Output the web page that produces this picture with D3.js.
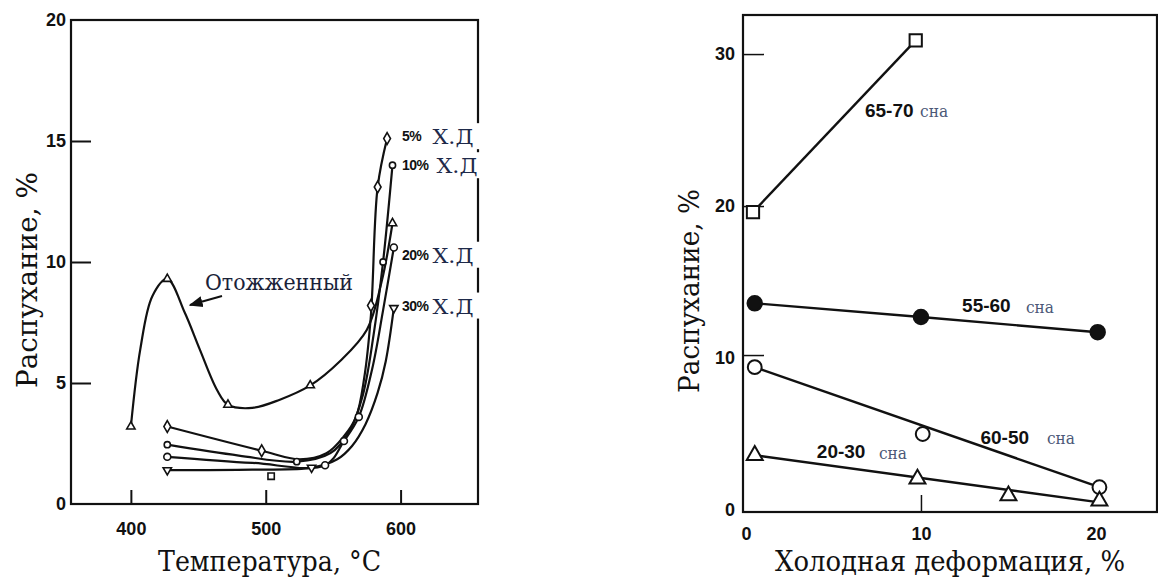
<!DOCTYPE html>
<html><head><meta charset="utf-8">
<script src="https://cdn.jsdelivr.net/npm/d3@7"></script>
<style>
html,body{margin:0;padding:0;background:#fff;}
svg{display:block;}
.serif{font-family:"DejaVu Serif","Liberation Serif",serif;}
.sans{font-family:"Liberation Sans",Arial,sans-serif;font-weight:bold;}
</style></head>
<body>
<svg id="c" width="1158" height="579"></svg>
<script>
// ---------- LEFT CHART DATA (temperature, swelling %) ----------
const leftXTicks = [400, 500, 600];
const leftYTicks = [0, 5, 10, 15, 20];
const leftXTitle = "Температура, °С";
const leftYTitle = "Распухание, %";

// curve readings
const annealCurve = [[400,3.2],[407,6.4],[416,8.6],[427,9.3],[440,7.9],[451,6.4],[464,4.7],[472,4.1],[490,3.97],[510,4.3],[533,4.9],[555,5.9],[575,7.2],[586,9.2],[594,11.6]];
const annealMarks = [[400,3.2],[427,9.3],[472,4.1],[533,4.9],[594,11.6]];

const cw5Curve  = [[427,3.2],[497,2.2],[525,1.85],[545,2.1],[558,2.8],[567,3.6],[573,5.2],[578,7.8],[583,13.1],[590,15.1]];
const cw5Marks  = [[427,3.2],[497,2.2],[578,8.2],[583,13.1],[590,15.1]];

const cw10Curve = [[427,2.45],[480,2.0],[523,1.75],[548,2.1],[562,3.0],[572,4.5],[580,7.0],[587,10.0],[594,14.0]];
const cw10Marks = [[427,2.45],[523,1.75],[587,10.0],[594,14.0]];

const cw20Curve = [[427,1.95],[490,1.7],[544,1.6],[558,2.6],[569,3.6],[579,5.6],[587,8.0],[595,10.6]];
const cw20Marks = [[427,1.95],[544,1.6],[558,2.6],[569,3.6],[595,10.6]];

const cw30Curve = [[427,1.4],[490,1.42],[534,1.5],[553,1.85],[564,2.4],[574,3.3],[583,4.6],[589,5.9],[595,8.1]];
const cw30Marks = [[427,1.4],[534,1.5],[595,8.1]];

const strayMarks = [[504,1.15]];

const cwLabelsPct = ["5%", "10%", "20%", "30%"];
const cwLabelsVal = [15.2, 14.0, 10.3, 8.2];
const cwLabelSuffix = "Х.Д";
const annealLabel = "Отожженный";

// ---------- RIGHT CHART DATA (cold work %, swelling %) ----------
const rightXTicks = [0, 10, 20];
const rightYTicks = [0, 10, 20, 30];
const rightXTitle = "Холодная деформация, %";
const rightYTitle = "Распухание, %";

const dpa6570 = [[0.4,19.6],[9.7,30.9]];
const dpa5560 = [[0.5,13.6],[10.0,12.7],[20.1,11.7]];
const dpa6050 = [[0.5,9.4],[10.1,5.0],[20.2,1.5]];
const dpa6050Fit = [[0.5,9.4],[20.2,1.5]];
const dpa2030 = [[0.5,3.6],[9.8,2.05],[15.0,0.95],[20.2,0.6]];
const dpa2030Fit = [[0.5,3.6],[20.2,0.5]];

const rightSeriesLabels = ["65-70", "55-60", "60-50", "20-30"];
const rightLabelUnit = "сна";

// ---------- DRAW ----------
const svg = d3.select("#c");
const INK = "#111";

function serifText(g, x, y, txt, size, len, color, rotate) {
  const t = g.append("text").attr("class","serif").attr("text-anchor","middle")
    .style("font-size", size+"px").attr("fill", color || INK)
    .attr("textLength", len).attr("lengthAdjust","spacingAndGlyphs").text(txt);
  if (rotate) t.attr("transform",`translate(${x},${y}) rotate(-90)`).attr("dominant-baseline","central");
  else t.attr("x",x).attr("y",y);
  return t;
}

// Left scales
const xL = d3.scaleLinear().domain([355.6, 657.4]).range([71, 478]);
const yL = d3.scaleLinear().domain([0, 20]).range([504, 20]);

const gL = svg.append("g");

gL.append("rect").attr("x", xL.range()[0]).attr("y", yL.range()[1])
  .attr("width", xL.range()[1]-xL.range()[0]).attr("height", yL.range()[0]-yL.range()[1])
  .attr("fill","none").attr("stroke",INK).attr("stroke-width",2.2);

const axL = gL.append("g").attr("transform",`translate(${xL.range()[0]},0)`)
  .call(d3.axisLeft(yL).tickValues(leftYTicks).tickSizeInner(-20).tickSizeOuter(0).tickPadding(5));
const axB = gL.append("g").attr("transform",`translate(0,${yL.range()[0]})`)
  .call(d3.axisBottom(xL).tickValues(leftXTicks).tickSizeInner(-14).tickSizeOuter(0).tickPadding(18));
[axL, axB].forEach(a => {
  a.attr("font-family",null).attr("font-size",null);
  a.select(".domain").remove();
  a.selectAll(".tick line").attr("stroke",INK).attr("stroke-width",2);
  a.selectAll(".tick text").attr("class","sans").attr("fill",INK).style("font-size","18px");
});
axL.selectAll(".tick").filter(d => d===0 || d===20).select("line").remove();

serifText(gL, 269.5, 571, leftXTitle, 27, 223);
serifText(gL, 27, 280, leftYTitle, 27, 216, INK, true);

const lineL = d3.line().x(d=>xL(d[0])).y(d=>yL(d[1])).curve(d3.curveCatmullRom.alpha(0.5));
[annealCurve, cw5Curve, cw10Curve, cw20Curve, cw30Curve].forEach(c => {
  gL.append("path").attr("d", lineL(c)).attr("fill","none").attr("stroke",INK).attr("stroke-width",2.2);
});

function drawMarks(g, data, sx, sy, type, size, fill, sw) {
  g.selectAll(null).data(data).enter().append("path")
    .attr("d", d3.symbol().type(type).size(size))
    .attr("transform", d => `translate(${sx(d[0])},${sy(d[1])})`)
    .attr("fill", fill).attr("stroke",INK).attr("stroke-width",sw);
}
const invTri = { draw(ctx, size){ const h=Math.sqrt(size*4/Math.sqrt(3)); const r=h/Math.sqrt(3);
  ctx.moveTo(-h/2,-r/2); ctx.lineTo(h/2,-r/2); ctx.lineTo(0,r); ctx.closePath(); } };
drawMarks(gL, annealMarks, xL, yL, d3.symbolTriangle, 30, "#fff", 1.6);
drawMarks(gL, cw5Marks, xL, yL, d3.symbolDiamond, 40, "#fff", 1.6);
drawMarks(gL, cw10Marks, xL, yL, d3.symbolCircle, 30, "#fff", 1.6);
drawMarks(gL, cw20Marks, xL, yL, d3.symbolCircle, 38, "#fff", 1.6);
drawMarks(gL, cw30Marks, xL, yL, invTri, 30, "#fff", 1.6);
drawMarks(gL, strayMarks, xL, yL, d3.symbolSquare, 40, "#fff", 1.6);

cwLabelsPct.forEach((p,i) => {
  const yy = yL(cwLabelsVal[i]);
  gL.append("rect").attr("x",400).attr("y",yy-13).attr("width",82).attr("height",26).attr("fill","#fff");
  gL.append("text").attr("class","sans").attr("x",402).attr("y",yy).attr("dominant-baseline","central")
    .style("font-size","14px").attr("fill",INK).attr("letter-spacing",-0.5).text(p);
  gL.append("text").attr("class","serif").attr("x", i===1?457:453).attr("y",yy+1)
    .attr("text-anchor","middle").attr("dominant-baseline","central")
    .style("font-size","21px").attr("fill","#1e2a4a")
    .attr("textLength",41).attr("lengthAdjust","spacingAndGlyphs").text(cwLabelSuffix);
});

svg.append("defs").append("marker").attr("id","arr").attr("viewBox","0 0 10 10")
  .attr("refX",9).attr("refY",5).attr("markerWidth",7).attr("markerHeight",7).attr("orient","auto")
  .append("path").attr("d","M0,1 L10,5 L0,9 Z").attr("fill",INK);
serifText(gL, 279, 290, annealLabel, 22, 148, "#1a2238");
gL.append("line").attr("x1",222).attr("y1",296).attr("x2",190).attr("y2",305)
  .attr("stroke",INK).attr("stroke-width",2).attr("marker-end","url(#arr)");

// ---------- RIGHT CHART ----------
const xR = d3.scaleLinear().domain([-0.171, 23.49]).range([743, 1157]);
const yR = d3.scaleLinear().domain([-0.13, 32.57]).range([512, 15]);
const gR = svg.append("g");

gR.append("rect").attr("x",xR.range()[0]).attr("y",yR.range()[1])
  .attr("width",xR.range()[1]-xR.range()[0]).attr("height",yR.range()[0]-yR.range()[1])
  .attr("fill","none").attr("stroke",INK).attr("stroke-width",2.2);

const axRL = gR.append("g").attr("transform",`translate(${xR.range()[0]},0)`)
  .call(d3.axisLeft(yR).tickValues(rightYTicks).tickSizeInner(-21).tickSizeOuter(0).tickPadding(8));
const axRB = gR.append("g").attr("transform",`translate(0,${yR.range()[0]})`)
  .call(d3.axisBottom(xR).tickValues(rightXTicks).tickSizeInner(-17).tickSizeOuter(0).tickPadding(15));
[axRL, axRB].forEach(a => {
  a.attr("font-family",null).attr("font-size",null);
  a.select(".domain").remove();
  a.selectAll(".tick line").attr("stroke",INK).attr("stroke-width",1.5);
  a.selectAll(".tick text").attr("class","sans").attr("fill",INK).style("font-size","18px");
});
axRL.selectAll(".tick").filter(d => d===0).select("line").remove();
axRB.selectAll(".tick").filter(d => d!==10).select("line").remove();
axRL.selectAll(".tick").filter(d => d===10).select("line").attr("transform","translate(0,-3)");

serifText(gR, 950, 571, rightXTitle, 27, 350);
serifText(gR, 689, 291, rightYTitle, 27, 204, INK, true);

const lineR = d3.line().x(d=>xR(d[0])).y(d=>yR(d[1]));
[dpa6570, dpa5560, dpa6050Fit, dpa2030Fit].forEach(c => {
  gR.append("path").attr("d", lineR(c)).attr("fill","none").attr("stroke",INK).attr("stroke-width",2.4);
});
drawMarks(gR, dpa6570, xR, yR, d3.symbolSquare, 150, "#fff", 2);
drawMarks(gR, dpa5560, xR, yR, d3.symbolCircle, 165, INK, 2);
drawMarks(gR, dpa6050, xR, yR, d3.symbolCircle, 150, "#fff", 2);
drawMarks(gR, dpa2030, xR, yR, d3.symbolTriangle, 110, "#fff", 2);

const rLabelPos = [[6.8,26.3],[12.35,13.45],[13.4,4.8],[4.05,3.85]];
const rUnitX = [9.95, 16.0, 17.2, 7.6];
rightSeriesLabels.forEach((s,i) => {
  gR.append("text").attr("class","sans").attr("x",xR(rLabelPos[i][0])).attr("y",yR(rLabelPos[i][1]))
    .attr("dominant-baseline","central").style("font-size","19px").attr("fill",INK).text(s);
  gR.append("text").attr("class","serif").attr("x",xR(rUnitX[i])).attr("y",yR(rLabelPos[i][1])+1)
    .attr("dominant-baseline","central").style("font-size","17px").attr("fill","#4b5877")
    .attr("textLength",28).attr("lengthAdjust","spacingAndGlyphs").text(rightLabelUnit);
});
</script>
</body></html>
